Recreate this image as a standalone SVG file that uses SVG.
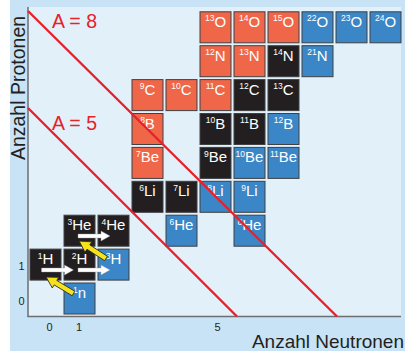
<svg xmlns="http://www.w3.org/2000/svg" width="405" height="351" viewBox="0 0 405 351">
<style>
.cell rect{stroke:#3f4042;stroke-width:1}
.or rect{fill:#ef6649}
.bl rect{fill:#3a86c6}
.bk rect{fill:#231f20}
.cell text{fill:#fff;font-family:"Liberation Sans",Arial,sans-serif;text-anchor:middle;font-size:15px}
.sup{font-size:8.5px}
.ax{font-family:"Liberation Sans",Arial,sans-serif;fill:#231f20}
.red{stroke:#e8202a;stroke-width:2.4;fill:none}
.rl{fill:#e8202a;font-family:"Liberation Sans",Arial,sans-serif;font-size:19.5px}
.wa{fill:#fff;stroke:#9a9a9a;stroke-width:0.4}
.ya{fill:#f5e21b;stroke:#2a2a2a;stroke-width:0.8}
</style>
<defs>
<path id="wArrow" d="M0,-2 L23,-2 L23,-5 L32,0 L23,5 L23,2 L0,2 Z"/>
<path id="yArrow" d="M0,-2.6 L21,-2.6 L21,-6.2 L32,0 L21,6.2 L21,2.6 L0,2.6 Z"/>
</defs>
<rect x="10" y="0" width="395" height="351" fill="#c8e3f5"/>
<rect x="28" y="7" width="373" height="309" fill="#e2f0fa"/>
<g id="axes">
<line x1="28" y1="7" x2="28" y2="316.5" stroke="#6d6e71" stroke-width="1.5"/>
<line x1="27.3" y1="316.5" x2="401" y2="316.5" stroke="#6d6e71" stroke-width="1.5"/>
<text class="ax" x="21.5" y="270" font-size="11" text-anchor="middle">1</text>
<text class="ax" x="21.5" y="304.5" font-size="11" text-anchor="middle">0</text>
<text class="ax" x="49.5" y="331" font-size="11" text-anchor="middle">0</text>
<text class="ax" x="79" y="331" font-size="11" text-anchor="middle">1</text>
<text class="ax" x="217.5" y="331" font-size="11" text-anchor="middle">5</text>
<text class="ax" x="404" y="348" font-size="19" text-anchor="end">Anzahl Neutronen</text>
<text class="ax" transform="translate(24.5,88) rotate(-90)" font-size="19.5" text-anchor="middle">Anzahl Protonen</text>
</g>
<g id="nuclides">
<g id="O13" class="cell or" transform="translate(200,11.8)"><rect width="31" height="31"/><text x="15.5" y="15"><tspan class="sup" dy="-5.5">13</tspan><tspan dy="5.5">O</tspan></text></g>
<g id="O14" class="cell or" transform="translate(234,11.8)"><rect width="31" height="31"/><text x="15.5" y="15"><tspan class="sup" dy="-5.5">14</tspan><tspan dy="5.5">O</tspan></text></g>
<g id="O15" class="cell or" transform="translate(268,11.8)"><rect width="31" height="31"/><text x="15.5" y="15"><tspan class="sup" dy="-5.5">15</tspan><tspan dy="5.5">O</tspan></text></g>
<g id="O22" class="cell bl" transform="translate(302,11.8)"><rect width="31" height="31"/><text x="15.5" y="15"><tspan class="sup" dy="-5.5">22</tspan><tspan dy="5.5">O</tspan></text></g>
<g id="O23" class="cell bl" transform="translate(336,11.8)"><rect width="31" height="31"/><text x="15.5" y="15"><tspan class="sup" dy="-5.5">23</tspan><tspan dy="5.5">O</tspan></text></g>
<g id="O24" class="cell bl" transform="translate(370,11.8)"><rect width="31" height="31"/><text x="15.5" y="15"><tspan class="sup" dy="-5.5">24</tspan><tspan dy="5.5">O</tspan></text></g>

<g id="N12" class="cell or" transform="translate(200,45.7)"><rect width="31" height="31"/><text x="15.5" y="15"><tspan class="sup" dy="-5.5">12</tspan><tspan dy="5.5">N</tspan></text></g>
<g id="N13" class="cell or" transform="translate(234,45.7)"><rect width="31" height="31"/><text x="15.5" y="15"><tspan class="sup" dy="-5.5">13</tspan><tspan dy="5.5">N</tspan></text></g>
<g id="N14" class="cell bk" transform="translate(268,45.7)"><rect width="31" height="31"/><text x="15.5" y="15"><tspan class="sup" dy="-5.5">14</tspan><tspan dy="5.5">N</tspan></text></g>
<g id="N21" class="cell bl" transform="translate(302,45.7)"><rect width="31" height="31"/><text x="15.5" y="15"><tspan class="sup" dy="-5.5">21</tspan><tspan dy="5.5">N</tspan></text></g>

<g id="C9" class="cell or" transform="translate(132,79.6)"><rect width="31" height="31"/><text x="15.5" y="15"><tspan class="sup" dy="-5.5">9</tspan><tspan dy="5.5">C</tspan></text></g>
<g id="C10" class="cell or" transform="translate(166,79.6)"><rect width="31" height="31"/><text x="15.5" y="15"><tspan class="sup" dy="-5.5">10</tspan><tspan dy="5.5">C</tspan></text></g>
<g id="C11" class="cell or" transform="translate(200,79.6)"><rect width="31" height="31"/><text x="15.5" y="15"><tspan class="sup" dy="-5.5">11</tspan><tspan dy="5.5">C</tspan></text></g>
<g id="C12" class="cell bk" transform="translate(234,79.6)"><rect width="31" height="31"/><text x="15.5" y="15"><tspan class="sup" dy="-5.5">12</tspan><tspan dy="5.5">C</tspan></text></g>
<g id="C13" class="cell bk" transform="translate(268,79.6)"><rect width="31" height="31"/><text x="15.5" y="15"><tspan class="sup" dy="-5.5">13</tspan><tspan dy="5.5">C</tspan></text></g>

<g id="B8" class="cell or" transform="translate(132,113.5)"><rect width="31" height="31"/><text x="15.5" y="15"><tspan class="sup" dy="-5.5">8</tspan><tspan dy="5.5">B</tspan></text></g>
<g id="B10" class="cell bk" transform="translate(200,113.5)"><rect width="31" height="31"/><text x="15.5" y="15"><tspan class="sup" dy="-5.5">10</tspan><tspan dy="5.5">B</tspan></text></g>
<g id="B11" class="cell bk" transform="translate(234,113.5)"><rect width="31" height="31"/><text x="15.5" y="15"><tspan class="sup" dy="-5.5">11</tspan><tspan dy="5.5">B</tspan></text></g>
<g id="B12" class="cell bl" transform="translate(268,113.5)"><rect width="31" height="31"/><text x="15.5" y="15"><tspan class="sup" dy="-5.5">12</tspan><tspan dy="5.5">B</tspan></text></g>

<g id="Be7" class="cell or" transform="translate(132,147.4)"><rect width="31" height="31"/><text x="15.5" y="15"><tspan class="sup" dy="-5.5">7</tspan><tspan dy="5.5">Be</tspan></text></g>
<g id="Be9" class="cell bk" transform="translate(200,147.4)"><rect width="31" height="31"/><text x="15.5" y="15"><tspan class="sup" dy="-5.5">9</tspan><tspan dy="5.5">Be</tspan></text></g>
<g id="Be10" class="cell bl" transform="translate(234,147.4)"><rect width="31" height="31"/><text x="15.5" y="15"><tspan class="sup" dy="-5.5">10</tspan><tspan dy="5.5">Be</tspan></text></g>
<g id="Be11" class="cell bl" transform="translate(268,147.4)"><rect width="31" height="31"/><text x="15.5" y="15"><tspan class="sup" dy="-5.5">11</tspan><tspan dy="5.5">Be</tspan></text></g>

<g id="Li6" class="cell bk" transform="translate(132,181.3)"><rect width="31" height="31"/><text x="15.5" y="15"><tspan class="sup" dy="-5.5">6</tspan><tspan dy="5.5">Li</tspan></text></g>
<g id="Li7" class="cell bk" transform="translate(166,181.3)"><rect width="31" height="31"/><text x="15.5" y="15"><tspan class="sup" dy="-5.5">7</tspan><tspan dy="5.5">Li</tspan></text></g>
<g id="Li8" class="cell bl" transform="translate(200,181.3)"><rect width="31" height="31"/><text x="15.5" y="15"><tspan class="sup" dy="-5.5">8</tspan><tspan dy="5.5">Li</tspan></text></g>
<g id="Li9" class="cell bl" transform="translate(234,181.3)"><rect width="31" height="31"/><text x="15.5" y="15"><tspan class="sup" dy="-5.5">9</tspan><tspan dy="5.5">Li</tspan></text></g>

<g id="He3" class="cell bk" transform="translate(64,215.2)"><rect width="31" height="31"/><text x="15.5" y="15"><tspan class="sup" dy="-5.5">3</tspan><tspan dy="5.5">He</tspan></text></g>
<g id="He4" class="cell bk" transform="translate(98,215.2)"><rect width="31" height="31"/><text x="15.5" y="15"><tspan class="sup" dy="-5.5">4</tspan><tspan dy="5.5">He</tspan></text></g>
<g id="He6" class="cell bl" transform="translate(166,215.2)"><rect width="31" height="31"/><text x="15.5" y="15"><tspan class="sup" dy="-5.5">6</tspan><tspan dy="5.5">He</tspan></text></g>
<g id="He8" class="cell bl" transform="translate(234,215.2)"><rect width="31" height="31"/><text x="15.5" y="15"><tspan class="sup" dy="-5.5">8</tspan><tspan dy="5.5">He</tspan></text></g>

<g id="H1" class="cell bk" transform="translate(30,249.1)"><rect width="31" height="31"/><text x="15.5" y="15"><tspan class="sup" dy="-5.5">1</tspan><tspan dy="5.5">H</tspan></text></g>
<g id="H2" class="cell bk" transform="translate(64,249.1)"><rect width="31" height="31"/><text x="15.5" y="15"><tspan class="sup" dy="-5.5">2</tspan><tspan dy="5.5">H</tspan></text></g>
<g id="H3" class="cell bl" transform="translate(98,249.1)"><rect width="31" height="31"/><text x="15.5" y="15"><tspan class="sup" dy="-5.5">3</tspan><tspan dy="5.5">H</tspan></text></g>

<g id="n1" class="cell bl" transform="translate(64,283)"><rect width="31" height="31"/><text x="15.5" y="15"><tspan class="sup" dy="-5.5">1</tspan><tspan dy="5.5">n</tspan></text></g>
</g>
<g id="isobars">
<line class="red" x1="28" y1="11" x2="337" y2="316.5"/>
<line class="red" x1="28" y1="108" x2="237" y2="316.5"/>
<text class="rl" x="52" y="27.5">A = 8</text>
<text class="rl" x="52" y="130">A = 5</text>
</g>
<g id="connectors">
<use href="#wArrow" class="wa" transform="translate(41.5,270)"/>
<use href="#wArrow" class="wa" transform="translate(78,270)"/>
<use href="#wArrow" class="wa" transform="translate(78,236)"/>
<use href="#yArrow" class="ya" transform="translate(73.5,293.5) rotate(211)"/>
<use href="#yArrow" class="ya" transform="translate(106,258.5) rotate(213)"/>
</g>
</svg>
